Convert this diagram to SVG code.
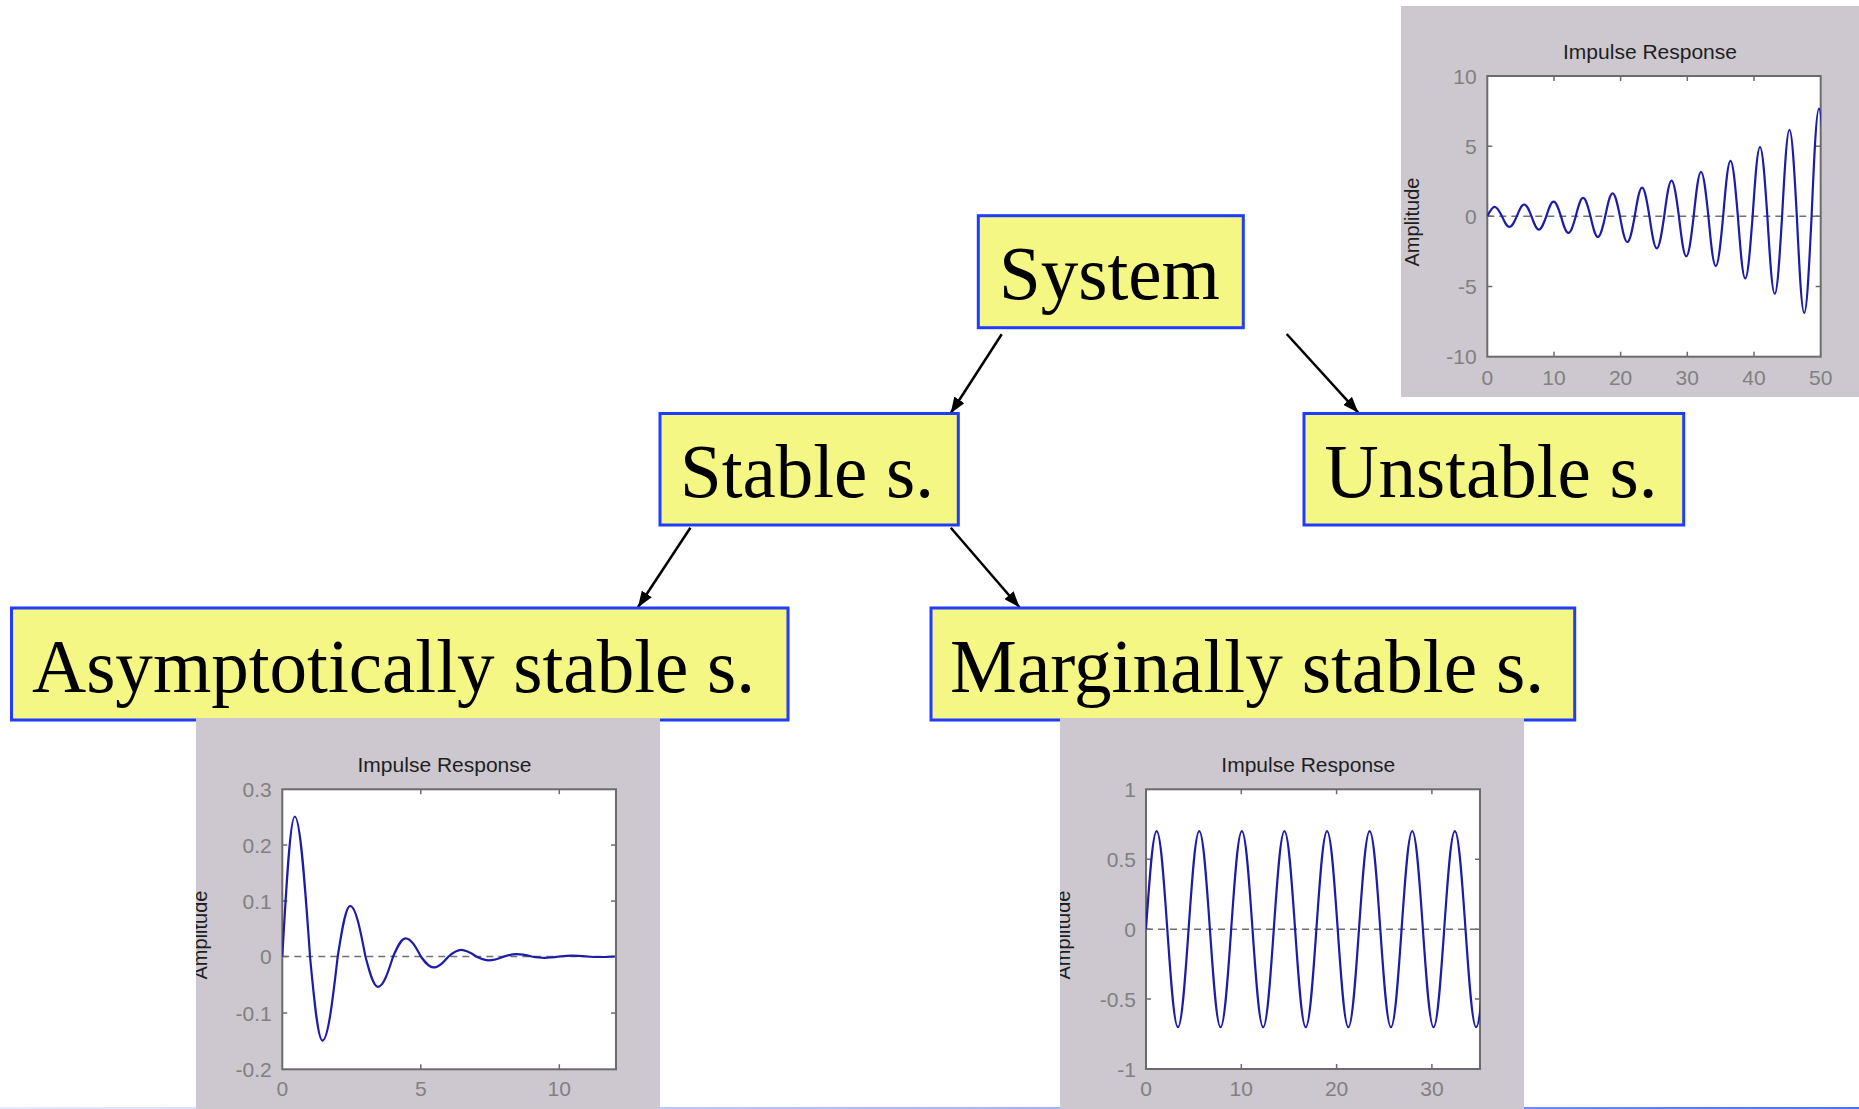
<svg xmlns="http://www.w3.org/2000/svg" width="1859" height="1109" viewBox="0 0 1859 1109">
<style>
.box{fill:#f5f785;stroke:#1f3cff;stroke-width:3}
.lbl{font-family:"Liberation Serif","Times New Roman",serif;font-size:77px;fill:#000}
.panel{fill:#cdc8cf}
.axes{fill:#fff;stroke:#6b6b6b;stroke-width:2}
.tick{stroke:#6b6b6b;stroke-width:1.5;fill:none}
.zero{stroke:#707070;stroke-width:1.5;stroke-dasharray:7 5}
.curve{fill:none;stroke:#1c1ca8;stroke-width:2.2;stroke-linejoin:round}
.tl{font-family:"Liberation Sans",Arial,sans-serif;font-size:21px;fill:#808080}
.ttl{font-family:"Liberation Sans",Arial,sans-serif;font-size:21px;fill:#1e1e1e;text-anchor:middle}
.amp{font-family:"Liberation Sans",Arial,sans-serif;font-size:20px;fill:#1e1e1e;text-anchor:middle}
.conn{stroke:#000;stroke-width:2.5;fill:none}
.r{text-anchor:end}
.m{text-anchor:middle}
</style>
<defs>
<marker id="ah" viewBox="0 0 16 12" refX="16" refY="6" markerWidth="16" markerHeight="12" markerUnits="userSpaceOnUse" orient="auto">
<path d="M0,0 L16,6 L0,12 z" fill="#000"/>
</marker>
<linearGradient id="bl" x1="0" y1="0" x2="1" y2="0">
<stop offset="0" stop-color="#e6ebff"/>
<stop offset="0.55" stop-color="#a3b4ff"/>
<stop offset="1" stop-color="#4d6dff"/>
</linearGradient>
<clipPath id="cU"><rect x="1487.3" y="76" width="333.4" height="280.7"/></clipPath>
<clipPath id="cA"><rect x="282.3" y="789.3" width="333.7" height="280"/></clipPath>
<clipPath id="cM"><rect x="1146" y="789.3" width="334" height="279.7"/></clipPath>
<clipPath id="pA"><rect x="196" y="718" width="464" height="391"/></clipPath>
<clipPath id="pM"><rect x="1060" y="718" width="464" height="391"/></clipPath>
</defs>

<rect x="0" y="1107" width="1859" height="2" fill="url(#bl)"/>

<g id="plot-unstable">
<rect class="panel" x="1401" y="6" width="458" height="391"/>
<text class="ttl" x="1650" y="59.3">Impulse Response</text>
<rect class="axes" x="1487.3" y="76" width="333.4" height="280.7"/>
<path class="tick" d="M1554,76v5M1620.6,76v5M1687.3,76v5M1754,76v5M1554,356.7v-5M1620.6,356.7v-5M1687.3,356.7v-5M1754,356.7v-5M1487.3,146.2h5M1487.3,216.35h5M1487.3,286.5h5M1820.7,146.2h-5M1820.7,216.35h-5M1820.7,286.5h-5"/>
<line class="zero" x1="1487.3" y1="216.35" x2="1820.7" y2="216.35"/>
<path class="curve" clip-path="url(#cU)" d="M1487.3,216.35 c2.4,-4.86 4.7,-9.49 7.37,-9.49 c2.67,0 4.96,4.63 7.37,9.49 c2.4,5.43 4.7,10.6 7.37,10.6 c2.67,0 4.96,-5.17 7.37,-10.6 c2.4,-6.06 4.7,-11.84 7.37,-11.84 c2.67,0 4.96,5.78 7.37,11.84 c2.4,6.77 4.7,13.22 7.37,13.22 c2.67,0 4.96,-6.45 7.37,-13.22 c2.4,-7.56 4.7,-14.76 7.37,-14.76 c2.67,0 4.96,7.2 7.37,14.76 c2.4,8.44 4.7,16.49 7.37,16.49 c2.67,0 4.96,-8.05 7.37,-16.49 c2.4,-9.43 4.7,-18.41 7.37,-18.41 c2.67,0 4.96,8.98 7.37,18.41 c2.4,10.53 4.7,20.56 7.37,20.56 c2.67,0 4.96,-10.03 7.37,-20.56 c2.4,-11.76 4.7,-22.97 7.37,-22.97 c2.67,0 4.96,11.21 7.37,22.97 c2.4,13.13 4.7,25.65 7.37,25.65 c2.67,0 4.96,-12.52 7.37,-25.65 c2.4,-14.66 4.7,-28.64 7.37,-28.64 c2.67,0 4.96,13.98 7.37,28.64 c2.4,16.38 4.7,31.99 7.37,31.99 c2.67,0 4.96,-15.61 7.37,-31.99 c2.4,-18.29 4.7,-35.72 7.37,-35.72 c2.67,0 4.96,17.43 7.37,35.72 c2.4,20.43 4.7,39.9 7.37,39.9 c2.67,0 4.96,-19.47 7.37,-39.9 c2.4,-22.81 4.7,-44.56 7.37,-44.56 c2.67,0 4.96,21.75 7.37,44.56 c2.4,25.48 4.7,49.76 7.37,49.76 c2.67,0 4.96,-24.28 7.37,-49.76 c2.4,-28.45 4.7,-55.57 7.37,-55.57 c2.67,0 4.96,27.12 7.37,55.57 c2.4,31.77 4.7,62.06 7.37,62.06 c2.67,0 4.96,-30.29 7.37,-62.06 c2.4,-35.49 4.7,-69.31 7.37,-69.31 c2.67,0 4.96,33.82 7.37,69.31 c2.4,39.63 4.7,77.41 7.37,77.41 c2.67,0 4.96,-37.78 7.37,-77.41 c2.4,-44.26 4.7,-86.45 7.37,-86.45 c2.67,0 4.96,42.19 7.37,86.45 c2.4,49.43 4.7,96.55 7.37,96.55 c2.67,0 4.96,-47.12 7.37,-96.55 c2.4,-55.2 4.7,-107.82 7.37,-107.82 c2.67,0 4.96,52.62 7.37,107.82"/>
<text class="tl r" x="1476.7" y="83.5">10</text>
<text class="tl r" x="1476.7" y="153.7">5</text>
<text class="tl r" x="1476.7" y="223.8">0</text>
<text class="tl r" x="1476.7" y="294">-5</text>
<text class="tl r" x="1476.7" y="364.2">-10</text>
<text class="tl m" x="1487.3" y="385">0</text>
<text class="tl m" x="1554" y="385">10</text>
<text class="tl m" x="1620.6" y="385">20</text>
<text class="tl m" x="1687.3" y="385">30</text>
<text class="tl m" x="1754" y="385">40</text>
<text class="tl m" x="1820.7" y="385">50</text>
<text class="amp" transform="translate(1419,222) rotate(-90)">Amplitude</text>
</g>

<g id="connectors">
<line class="conn" x1="1001.7" y1="334.3" x2="950.7" y2="413.3" marker-end="url(#ah)"/>
<line class="conn" x1="1286.7" y1="334" x2="1358.3" y2="412.7" marker-end="url(#ah)"/>
<line class="conn" x1="690.4" y1="527.7" x2="638" y2="607.3" marker-end="url(#ah)"/>
<line class="conn" x1="950.8" y1="527.7" x2="1019.5" y2="607.3" marker-end="url(#ah)"/>
</g>

<g id="node-system">
<rect class="box" x="978.3" y="215.7" width="265" height="112"/>
<text class="lbl" x="999" y="299" textLength="221" lengthAdjust="spacingAndGlyphs">System</text>
</g>
<g id="node-stable">
<rect class="box" x="660" y="413.5" width="298.3" height="111.5"/>
<text class="lbl" x="680" y="496.7" textLength="254" lengthAdjust="spacingAndGlyphs">Stable s.</text>
</g>
<g id="node-unstable">
<rect class="box" x="1304" y="413.5" width="379.7" height="111.5"/>
<text class="lbl" x="1324.5" y="496.7" textLength="333" lengthAdjust="spacingAndGlyphs">Unstable s.</text>
</g>
<g id="node-asymptotic">
<rect class="box" x="11.5" y="608" width="776.5" height="112"/>
<text class="lbl" x="32" y="691.7" textLength="723" lengthAdjust="spacingAndGlyphs">Asymptotically stable s.</text>
</g>
<g id="node-marginal">
<rect class="box" x="931" y="608" width="643.7" height="112"/>
<text class="lbl" x="950" y="691.7" textLength="594" lengthAdjust="spacingAndGlyphs">Marginally stable s.</text>
</g>

<g id="plot-asymptotic">
<rect class="panel" x="196" y="718" width="464" height="391"/>
<text class="ttl" x="444.5" y="771.7">Impulse Response</text>
<rect class="axes" x="282.3" y="789.3" width="333.7" height="280"/>
<path class="tick" d="M420.8,789.3v5M559.3,789.3v5M420.8,1069.3v-5M559.3,1069.3v-5M282.3,845h5M282.3,901h5M282.3,956.5h5M282.3,1013h5M616,845h-5M616,901h-5M616,956.5h-5M616,1013h-5"/>
<line class="zero" x1="282.3" y1="956.5" x2="616" y2="956.5"/>
<path class="curve" clip-path="url(#cA)" d="M282.3,956.5 c4.07,-71.68 7.95,-140 12.47,-140 c5.51,0 10.27,68.32 15.24,140 c4.07,43.04 7.95,84.07 12.47,84.07 c5.51,0 10.27,-41.03 15.24,-84.07 c4.07,-25.85 7.95,-50.49 12.47,-50.49 c5.51,0 10.27,24.64 15.24,50.49 c4.07,15.52 7.95,30.32 12.47,30.32 c5.51,0 10.27,-14.8 15.24,-30.32 c4.07,-9.32 7.95,-18.21 12.47,-18.21 c5.51,0 10.27,8.89 15.24,18.21 c4.07,5.6 7.95,10.93 12.47,10.93 c5.51,0 10.27,-5.33 15.24,-10.93 c4.07,-3.36 7.95,-6.57 12.47,-6.57 c5.51,0 10.27,3.21 15.24,6.57 c4.07,2.02 7.95,3.94 12.47,3.94 c5.51,0 10.27,-1.92 15.24,-3.94 c4.07,-1.21 7.95,-2.37 12.47,-2.37 c5.51,0 10.27,1.16 15.24,2.37 c4.07,0.73 7.95,1.42 12.47,1.42 c5.51,0 10.27,-0.69 15.24,-1.42 c4.07,-0.44 7.95,-0.85 12.47,-0.85 c5.51,0 10.27,0.41 15.24,0.85 c4.07,0.26 7.95,0.51 12.47,0.51 c5.51,0 10.27,-0.25 15.24,-0.51"/>
<text class="tl r" x="271.7" y="796.8">0.3</text>
<text class="tl r" x="271.7" y="852.5">0.2</text>
<text class="tl r" x="271.7" y="908.5">0.1</text>
<text class="tl r" x="271.7" y="964">0</text>
<text class="tl r" x="271.7" y="1020.5">-0.1</text>
<text class="tl r" x="271.7" y="1076.8">-0.2</text>
<text class="tl m" x="282.3" y="1096">0</text>
<text class="tl m" x="420.8" y="1096">5</text>
<text class="tl m" x="559.3" y="1096">10</text>
<g clip-path="url(#pA)"><text class="amp" transform="translate(206.5,935) rotate(-90)">Amplitude</text></g>
</g>

<g id="plot-marginal">
<rect class="panel" x="1060" y="718" width="464" height="391"/>
<text class="ttl" x="1308.3" y="771.7">Impulse Response</text>
<rect class="axes" x="1146" y="789.3" width="334" height="279.7"/>
<path class="tick" d="M1241.3,789.3v5M1336.6,789.3v5M1431.9,789.3v5M1241.3,1069v-5M1336.6,1069v-5M1431.9,1069v-5M1146,859.2h5M1146,929.2h5M1146,999.1h5M1480,859.2h-5M1480,929.2h-5M1480,999.1h-5"/>
<line class="zero" x1="1146" y1="929.2" x2="1480" y2="929.2"/>
<path class="curve" clip-path="url(#cM)" d="M1146,929.2 c3.47,-50.18 6.8,-98 10.65,-98 c3.85,0 7.18,47.82 10.65,98 c3.47,50.18 6.8,98 10.65,98 c3.85,0 7.18,-47.82 10.65,-98 c3.47,-50.18 6.8,-98 10.65,-98 c3.85,0 7.18,47.82 10.65,98 c3.47,50.18 6.8,98 10.65,98 c3.85,0 7.18,-47.82 10.65,-98 c3.47,-50.18 6.8,-98 10.65,-98 c3.85,0 7.18,47.82 10.65,98 c3.47,50.18 6.8,98 10.65,98 c3.85,0 7.18,-47.82 10.65,-98 c3.47,-50.18 6.8,-98 10.65,-98 c3.85,0 7.18,47.82 10.65,98 c3.47,50.18 6.8,98 10.65,98 c3.85,0 7.18,-47.82 10.65,-98 c3.47,-50.18 6.8,-98 10.65,-98 c3.85,0 7.18,47.82 10.65,98 c3.47,50.18 6.8,98 10.65,98 c3.85,0 7.18,-47.82 10.65,-98 c3.47,-50.18 6.8,-98 10.65,-98 c3.85,0 7.18,47.82 10.65,98 c3.47,50.18 6.8,98 10.65,98 c3.85,0 7.18,-47.82 10.65,-98 c3.47,-50.18 6.8,-98 10.65,-98 c3.85,0 7.18,47.82 10.65,98 c3.47,50.18 6.8,98 10.65,98 c3.85,0 7.18,-47.82 10.65,-98 c3.47,-50.18 6.8,-98 10.65,-98 c3.85,0 7.18,47.82 10.65,98 c3.47,50.18 6.8,98 10.65,98 c3.85,0 7.18,-47.82 10.65,-98"/>
<text class="tl r" x="1136" y="796.8">1</text>
<text class="tl r" x="1136" y="866.7">0.5</text>
<text class="tl r" x="1136" y="936.7">0</text>
<text class="tl r" x="1136" y="1006.6">-0.5</text>
<text class="tl r" x="1136" y="1076.5">-1</text>
<text class="tl m" x="1146" y="1096">0</text>
<text class="tl m" x="1241.3" y="1096">10</text>
<text class="tl m" x="1336.6" y="1096">20</text>
<text class="tl m" x="1431.9" y="1096">30</text>
<g clip-path="url(#pM)"><text class="amp" transform="translate(1070,935) rotate(-90)">Amplitude</text></g>
</g>
</svg>
